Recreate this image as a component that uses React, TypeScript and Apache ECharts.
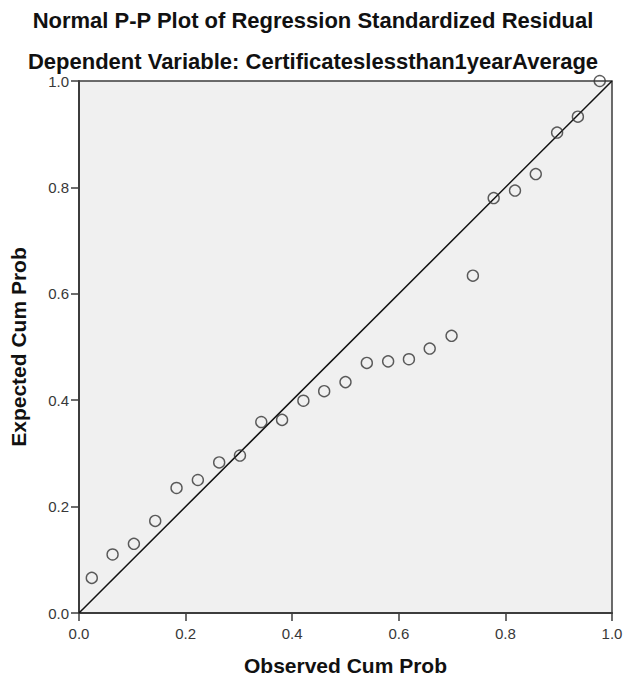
import React, { useEffect, useRef } from "react";
import * as echarts from "echarts";

const observedCumProb = [
  0.024, 0.063, 0.103, 0.143, 0.183, 0.223, 0.263, 0.302, 0.342, 0.381,
  0.421, 0.460, 0.500, 0.540, 0.580, 0.619, 0.658, 0.699, 0.739, 0.778,
  0.818, 0.857, 0.897, 0.936, 0.977,
];
const expectedCumProb = [
  0.066, 0.110, 0.130, 0.173, 0.235, 0.250, 0.283, 0.296, 0.359, 0.363,
  0.399, 0.417, 0.434, 0.470, 0.473, 0.477, 0.497, 0.521, 0.634, 0.780,
  0.794, 0.825, 0.903, 0.933, 1.0,
];
const referenceLine = [
  [0, 0],
  [1, 1],
];
const tickLabels = ["0.0", "0.2", "0.4", "0.6", "0.8", "1.0"];

const titleText = "Normal P-P Plot of Regression Standardized Residual";
const subtitleText = "Dependent Variable: Certificateslessthan1yearAverage";
const xAxisName = "Observed Cum Prob";
const yAxisName = "Expected Cum Prob";

export default function App() {
  const ref = useRef<HTMLDivElement>(null);
  useEffect(() => {
    if (!ref.current) return;
    const chart = echarts.init(ref.current, null, { renderer: "svg" });
    const font = "'Liberation Sans', Arial, sans-serif";
    const fmt = (v: number) => tickLabels[Math.round(v / 0.2)] ?? v.toFixed(1);
    const axisCommon = {
      type: "value" as const,
      min: 0,
      max: 1,
      interval: 0.2,
      splitLine: { show: false },
      axisLine: { show: true, lineStyle: { color: "#3c3c3c", width: 2 } },
      axisTick: { show: true, length: 8, lineStyle: { color: "#3c3c3c", width: 1.5 } },
      axisLabel: {
        color: "#383838",
        fontFamily: font,
        fontSize: 15,
        formatter: fmt,
      },
      nameLocation: "middle" as const,
      nameTextStyle: { color: "#111", fontFamily: font, fontSize: 21, fontWeight: "bold" as const },
    };
    chart.setOption({
      animation: false,
      backgroundColor: "#ffffff",
      title: [
        {
          text: titleText,
          left: "center",
          top: 4,
          textStyle: { color: "#111", fontFamily: font, fontSize: 22, fontWeight: "bold" },
        },
        {
          text: subtitleText,
          left: "center",
          top: 45,
          textStyle: { color: "#111", fontFamily: font, fontSize: 22, fontWeight: "bold" },
        },
      ],
      grid: {
        left: 79,
        right: 14,
        top: 81,
        bottom: 68,
        show: true,
        backgroundColor: "#f0f0f0",
        borderColor: "#3c3c3c",
        borderWidth: 1.5,
      },
      xAxis: {
        ...axisCommon,
        name: xAxisName,
        nameGap: 42,
        axisLabel: { ...axisCommon.axisLabel, margin: 13 },
      },
      yAxis: {
        ...axisCommon,
        name: yAxisName,
        nameGap: 50,
        nameRotate: 90,
        axisLabel: { ...axisCommon.axisLabel, margin: 10 },
      },
      series: [
        {
          type: "line",
          data: referenceLine,
          symbol: "none",
          lineStyle: { color: "#111", width: 1.5 },
          silent: true,
          z: 2,
        },
        {
          type: "scatter",
          data: observedCumProb.map((x, i) => [x, expectedCumProb[i]]),
          symbol: "circle",
          symbolSize: 11,
          itemStyle: { color: "transparent", borderColor: "#333", borderWidth: 1.4 },
          z: 3,
        },
      ],
    });
    return () => chart.dispose();
  }, []);
  return (
    <div
      ref={ref}
      style={{ position: "fixed", left: 0, top: 0, width: 626, height: 681 }}
    />
  );
}
